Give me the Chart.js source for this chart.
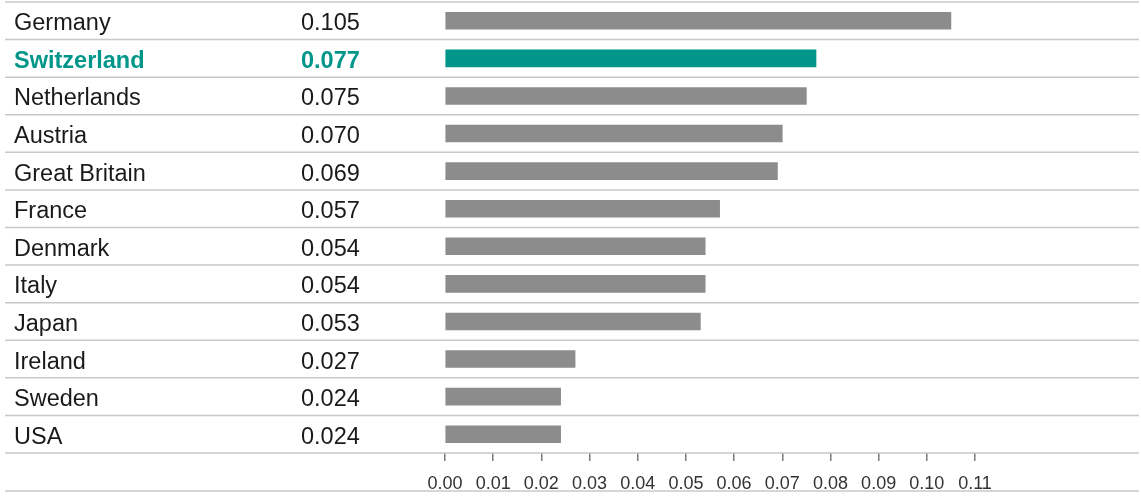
<!DOCTYPE html>
<html>
<head>
<meta charset="utf-8">
<script src="https://cdn.jsdelivr.net/npm/chart.js@4.4.1/dist/chart.umd.min.js"></script>
<style>
  html, body { margin: 0; padding: 0; background: #fff; }
  #wrap { width: 1141px; height: 496px; }
</style>
</head>
<body>
<div id="wrap"><canvas id="chart" width="1141" height="496"></canvas></div>
<script>
const countries = [`Germany`, `Switzerland`, `Netherlands`, `Austria`, `Great Britain`, `France`,
  `Denmark`, `Italy`, `Japan`, `Ireland`, `Sweden`, `USA`];
const values = [0.105, 0.077, 0.075, 0.070, 0.069, 0.057, 0.054, 0.054, 0.053, 0.027, 0.024, 0.024];
const highlight = `Switzerland`;
const xTicks = [0, 0.01, 0.02, 0.03, 0.04, 0.05, 0.06, 0.07, 0.08, 0.09, 0.10, 0.11];

const GREY = `#8c8c8c`;
const TEAL = `#00968a`;
const LINE = `#c8c8c8`;
const FONT = `"Liberation Sans", Arial, sans-serif`;

// row names, values and separators sit outside the plot area, so they are drawn here
const tableRows = {
  id: `tableRows`,
  afterDraw(chart) {
    const {ctx, chartArea, scales: {y}} = chart;
    const rowH = (chartArea.bottom - chartArea.top) / countries.length;

    ctx.save();
    ctx.strokeStyle = LINE;
    ctx.lineWidth = 1.5;
    const lineYs = [chartArea.top];
    countries.forEach((c, i) => lineYs.push(y.getPixelForValue(i) + rowH / 2));
    lineYs.push(chart.height - 5);
    lineYs.forEach((ly) => {
      ctx.beginPath();
      ctx.moveTo(5, ly);
      ctx.lineTo(1139, ly);
      ctx.stroke();
    });

    ctx.textBaseline = `middle`;
    countries.forEach((c, i) => {
      const cy = y.getPixelForValue(i) + 3;
      const hi = c === highlight;
      ctx.fillStyle = hi ? TEAL : `#1a1a1a`;
      ctx.font = `${hi ? `bold ` : ``}23.5px ${FONT}`;
      ctx.textAlign = `left`;
      ctx.fillText(c, 14, cy);
      ctx.fillText(values[i].toFixed(3), 301, cy);
    });
    ctx.restore();
  }
};

new Chart(document.getElementById(`chart`), {
  type: `bar`,
  data: {
    labels: countries,
    datasets: [{
      data: values,
      backgroundColor: countries.map((c) => c === highlight ? TEAL : GREY),
      barThickness: 17,
      borderWidth: 0
    }]
  },
  options: {
    indexAxis: `y`,
    responsive: false,
    animation: false,
    layout: {padding: {left: 445, right: 166, top: 2, bottom: 0}},
    plugins: {legend: {display: false}, tooltip: {enabled: false}},
    scales: {
      y: {
        display: false
      },
      x: {
        min: 0,
        max: 0.11,
        afterBuildTicks: (scale) => {
          scale.ticks = xTicks.map((v) => ({value: v}));
        },
        afterFit: (scale) => {
          scale.height = 43;
        },
        border: {display: false},
        grid: {
          drawOnChartArea: false,
          drawTicks: true,
          tickLength: 8,
          color: `#7a7a7a`,
          lineWidth: 1.5
        },
        ticks: {
          padding: 12,
          maxRotation: 0,
          autoSkip: false,
          color: `#333`,
          font: {family: FONT, size: 18},
          callback: (v) => Number(v).toFixed(2)
        }
      }
    }
  },
  plugins: [tableRows]
});
</script>
</body>
</html>
